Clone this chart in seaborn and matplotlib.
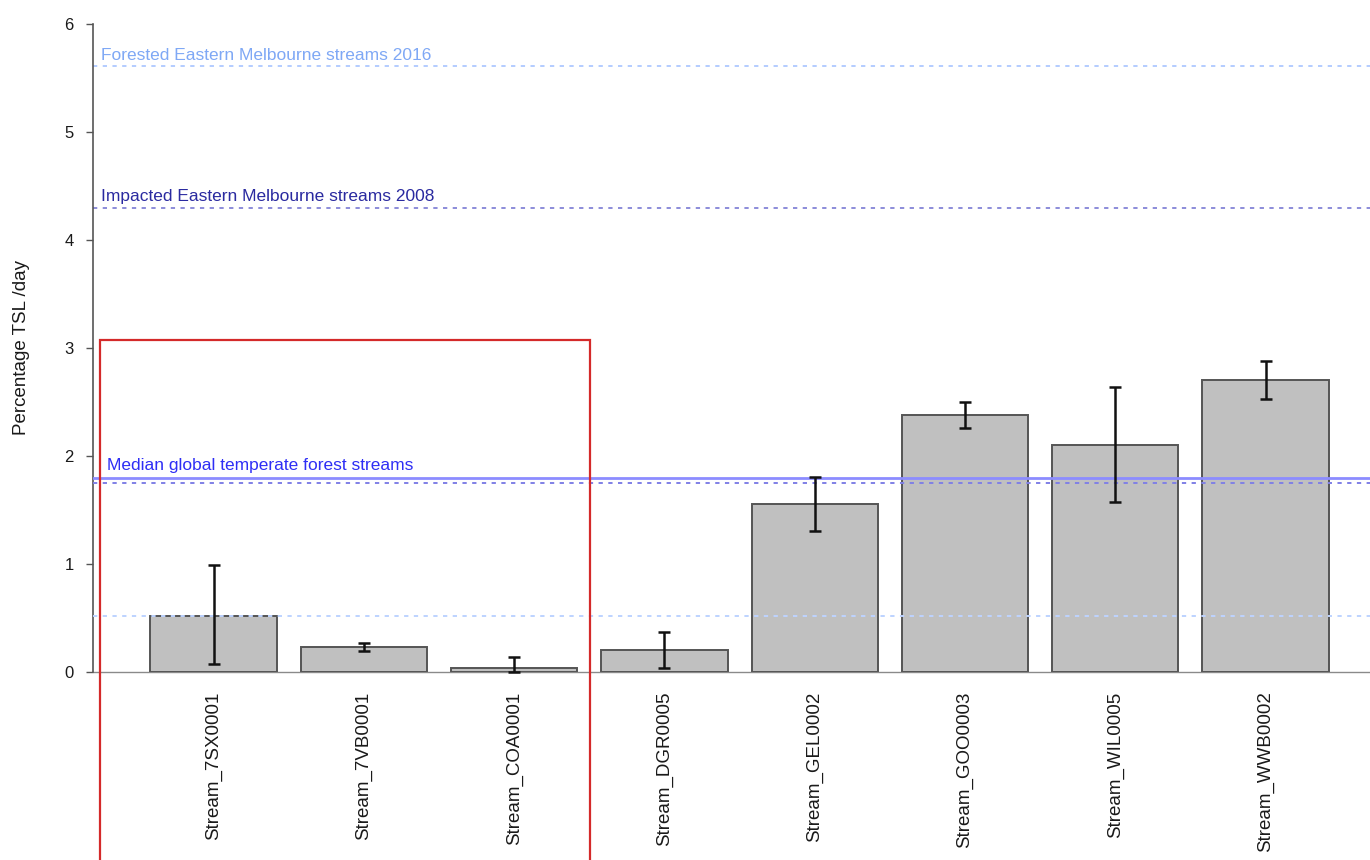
import matplotlib
matplotlib.use("Agg")
import matplotlib.pyplot as plt
import seaborn as sns
import pandas as pd
from matplotlib.patches import Rectangle

# Mean total stream length loss per day for each site, with lower/upper bounds
streams = ["Stream_7SX0001", "Stream_7VB0001", "Stream_COA0001", "Stream_DGR0005",
           "Stream_GEL0002", "Stream_GOO0003", "Stream_WIL0005", "Stream_WWB0002"]
tsl_mean = [0.52, 0.23, 0.04, 0.20, 1.56, 2.38, 2.10, 2.70]
tsl_lower = [0.07, 0.19, 0.00, 0.04, 1.31, 2.26, 1.57, 2.53]
tsl_upper = [0.99, 0.27, 0.14, 0.37, 1.81, 2.50, 2.64, 2.88]

# Benchmark rates
forested_2016 = 5.61
impacted_2008 = 4.30
median_global = 1.80
median_global_ref = 1.75
lower_ref = 0.52

df = pd.DataFrame({"stream": streams, "tsl": tsl_mean})

sns.set_theme(style="white")
plt.rcParams["font.family"] = ["Liberation Sans", "DejaVu Sans"]

fig = plt.figure(figsize=(13.7, 8.6), dpi=100)
ax = fig.add_axes([0.0679, 0.2186, 0.9321, 0.7535])

sns.barplot(data=df, x="stream", y="tsl", color="#C0C0C0", width=0.84,
            edgecolor="#555555", linewidth=1.4, saturation=1, ax=ax, zorder=2)

xpos = list(range(len(streams)))
yerr = [[m - lo for m, lo in zip(tsl_mean, tsl_lower)],
        [hi - m for m, hi in zip(tsl_mean, tsl_upper)]]
ax.errorbar(xpos, tsl_mean, yerr=yerr, fmt="none", ecolor="#111111",
            elinewidth=1.8, capsize=4, capthick=1.8, zorder=4, clip_on=False)

ax.set_xlim(-0.802, 7.695)
ax.set_ylim(0, 6)

# Reference lines
dot = (0, (2.2, 2.8))
ax.axhline(forested_2016, color="#B3CCFF", lw=1.4, ls=dot, zorder=1)
ax.axhline(impacted_2008, color="#8C8CD9", lw=1.4, ls=dot, zorder=1)
ax.axhline(median_global, color="#8C8CFF", lw=2.0, zorder=3)
ax.axhline(median_global_ref, color="#8080E6", lw=1.4, ls=dot, zorder=3)
ax.axhline(lower_ref, color="#BDD3FF", lw=1.4, ls=dot, zorder=3)
ax.axhline(0, color="#8A8A8A", lw=1.0, zorder=1, clip_on=False)

ax.text(-0.749, forested_2016 + 0.03, "Forested Eastern Melbourne streams 2016",
        color="#7FA8F5", fontsize=12.5, ha="left", va="bottom")
ax.text(-0.749, impacted_2008 + 0.03, "Impacted Eastern Melbourne streams 2008",
        color="#2A2AA0", fontsize=12.5, ha="left", va="bottom")
ax.text(-0.709, median_global + 0.04, "Median global temperate forest streams",
        color="#2E2EF5", fontsize=12.5, ha="left", va="bottom")

# Highlight box around the first group of sites
ax.add_patch(Rectangle((-0.755, -3.0), 2.505 + 0.755, 3.07 + 3.0, fill=False,
                       edgecolor="#D42A2A", lw=1.6, clip_on=False, zorder=5))

# Axes styling
for side in ["top", "right", "bottom"]:
    ax.spines[side].set_visible(False)
ax.spines["left"].set_color("#555555")
ax.spines["left"].set_linewidth(1.2)
ax.spines["left"].set_bounds(0, 6)

ax.set_yticks(range(0, 7))
ax.tick_params(axis="y", length=5, width=1.0, color="#555555", pad=9,
               labelsize=12, labelcolor="#1A1A1A", left=True)
ax.tick_params(axis="x", length=0, pad=14, labelsize=13.5, labelcolor="#1A1A1A")
ax.set_xticks(xpos)
ax.set_xticklabels(streams, rotation=90)

ax.set_xlabel("")
ax.set_ylabel("Percentage TSL /day", fontsize=13.5, color="#1A1A1A")
ax.yaxis.set_label_coords(-0.049, 0.5)

fig.savefig("out.png", dpi=100)
